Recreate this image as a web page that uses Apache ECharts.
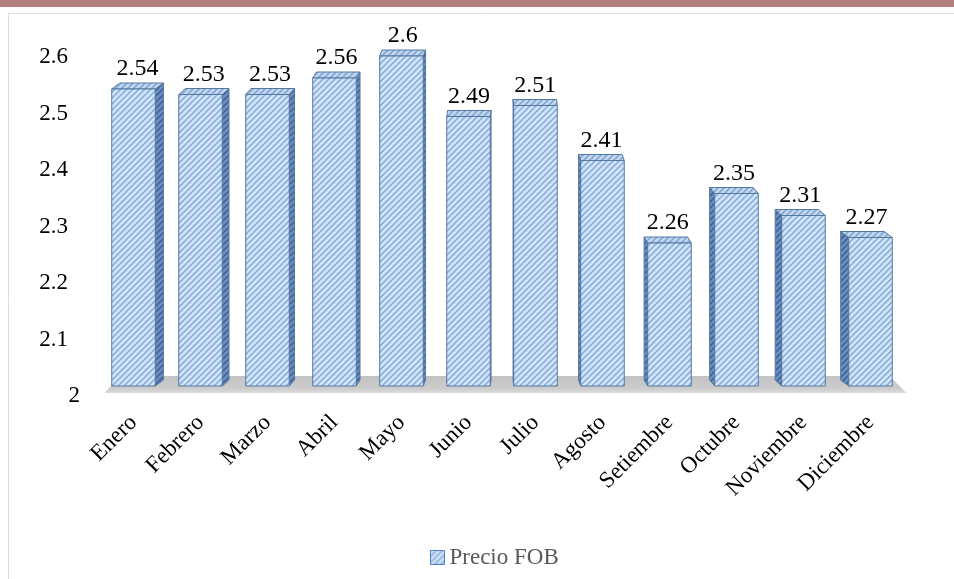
<!DOCTYPE html>
<html>
<head>
<meta charset="utf-8">
<script src="https://cdn.jsdelivr.net/npm/echarts@6/dist/echarts.min.js"></script>
<style>
  html, body { margin: 0; padding: 0; background: #fff; }
  #chart { width: 954px; height: 579px; }
</style>
</head>
<body>
<div id="chart"></div>
<script>
// datos
const months = ['Enero', 'Febrero', 'Marzo', 'Abril', 'Mayo', 'Junio', 'Julio',
  'Agosto', 'Setiembre', 'Octubre', 'Noviembre', 'Diciembre'];
const precioFOB = [2.54, 2.53, 2.53, 2.56, 2.6, 2.49, 2.51, 2.41, 2.26, 2.35, 2.31, 2.27];
const yMin = 2, yMax = 2.6, yStep = 0.1;

const FONT = '"Liberation Serif", "Times New Roman", serif';

// trama diagonal tipo Excel
function hatch(bg, fg, size) {
  const c = document.createElement('canvas');
  c.width = c.height = size;
  const g = c.getContext('2d');
  g.fillStyle = bg;
  g.fillRect(0, 0, size, size);
  g.strokeStyle = fg;
  g.lineWidth = 1.7;
  g.beginPath();
  g.moveTo(-1, size + 1); g.lineTo(size + 1, -1);
  g.moveTo(-size / 2 - 1, size / 2 + 1); g.lineTo(size / 2 + 1, -size / 2 - 1);
  g.moveTo(size / 2 - 1, size * 1.5 + 1); g.lineTo(size * 1.5 + 1, size / 2 - 1);
  g.stroke();
  return { image: c, repeat: 'repeat' };
}
const frontFill = hatch('#d3e5f8', '#8db0dc', 6);
const sideFill = hatch('#6d90bf', '#40659a', 6);
const topFill = hatch('#c4d9f1', '#86a7d3', 6);
const edge = '#55789f';

let vpX = 505; // punto de fuga aprox

function renderBar(params, api) {
  const i = api.value(0), v = api.value(1);
  const top = api.coord([i, v]);
  const base = api.coord([i, yMin]);
  const w = api.size([1, 0])[0] * 0.65;
  const x0 = top[0] - w / 2, x1 = top[0] + w / 2;
  const yt = top[1], yb = base[1];
  const dx = (vpX - top[0]) * 0.022, dy = -6;
  const side = dx >= 0
    ? [[x1, yt], [x1 + dx, yt + dy], [x1 + dx, yb + dy], [x1, yb]]
    : [[x0, yt], [x0 + dx, yt + dy], [x0 + dx, yb + dy], [x0, yb]];
  return {
    type: 'group',
    children: [
      { type: 'polygon', shape: { points: side },
        style: { fill: sideFill, stroke: edge, lineWidth: 1 } },
      { type: 'polygon', shape: { points: [[x0, yt], [x1, yt], [x1 + dx, yt + dy], [x0 + dx, yt + dy]] },
        style: { fill: topFill, stroke: edge, lineWidth: 1 } },
      { type: 'rect', shape: { x: x0, y: yt, width: w, height: yb - yt },
        style: { fill: frontFill, stroke: edge, lineWidth: 1 } },
      { type: 'text',
        style: { text: String(v), x: top[0] + dx / 2, y: yt - 20, align: 'center', verticalAlign: 'middle',
          fontSize: 24, fontFamily: FONT, fill: '#000' } }
    ]
  };
}

function renderFloor(params, api) {
  const a = api.coord([0, yMin]);
  const b = api.coord([months.length - 1, yMin]);
  return {
    type: 'polygon',
    shape: { points: [[a[0] - 14, a[1] - 10], [b[0] + 19, b[1] - 10], [b[0] + 36, b[1] + 7], [a[0] - 29, a[1] + 7]] },
    style: {
      fill: { type: 'linear', x: 0, y: 0, x2: 0, y2: 1,
        colorStops: [{ offset: 0, color: '#c3c3c3' }, { offset: 0.7, color: '#cbcbcb' }, { offset: 1, color: '#dadada' }] }
    }
  };
}

const chart = echarts.init(document.getElementById('chart'));
chart.setOption({
  animation: false,
  backgroundColor: '#fff',
  graphic: [
    { type: 'rect', shape: { x: 0, y: 0, width: 954, height: 7 }, style: { fill: '#b07f7e' } },
    { type: 'rect', shape: { x: 8.5, y: 13.5, width: 960, height: 600 }, style: { fill: 'none', stroke: '#dedede', lineWidth: 1 } }
  ],
  grid: [
    { left: 100, right: 50, top: 56, bottom: 193 },
    { left: 80, right: 50, top: 57, bottom: 183 }
  ],
  xAxis: [
    { type: 'category', gridIndex: 0, data: months,
      axisLine: { show: false }, axisTick: { show: false },
      axisLabel: { rotate: 45, margin: 33, interval: 0, fontSize: 23, fontFamily: FONT, color: '#000' } },
    { type: 'category', gridIndex: 1, data: months, show: false }
  ],
  yAxis: [
    { type: 'value', gridIndex: 0, min: yMin, max: yMax, interval: yStep, show: false },
    { type: 'value', gridIndex: 1, min: yMin, max: yMax, interval: yStep,
      axisLine: { show: false }, axisTick: { show: false }, splitLine: { show: false },
      axisLabel: {
        margin: 0, fontSize: 23, fontFamily: FONT, color: '#000',
        formatter: v => v === yMin ? '{b|2}' : '{a|' + (+v.toFixed(1)) + '}',
        rich: {
          a: { fontSize: 23, fontFamily: FONT, color: '#000', padding: [0, 12, 0, 0] },
          b: { fontSize: 23, fontFamily: FONT, color: '#000' }
        }
      } }
  ],
  legend: {
    data: [{ name: 'Precio FOB', icon: 'rect', itemStyle: { color: frontFill, borderColor: '#4f7fbf', borderWidth: 1 } }],
    left: 425, top: 541, itemWidth: 14, itemHeight: 14, itemGap: 4,
    textStyle: { fontSize: 23, fontFamily: FONT, color: '#595959' }
  },
  series: [
    { type: 'custom', name: 'floor', renderItem: renderFloor, data: [[0, yMin]], z: 1, silent: true },
    { type: 'custom', name: 'Precio FOB', renderItem: renderBar, z: 2,
      itemStyle: { color: frontFill },
      encode: { x: 0, y: 1 },
      data: precioFOB.map((v, i) => [i, v]) }
  ]
});
</script>
</body>
</html>
